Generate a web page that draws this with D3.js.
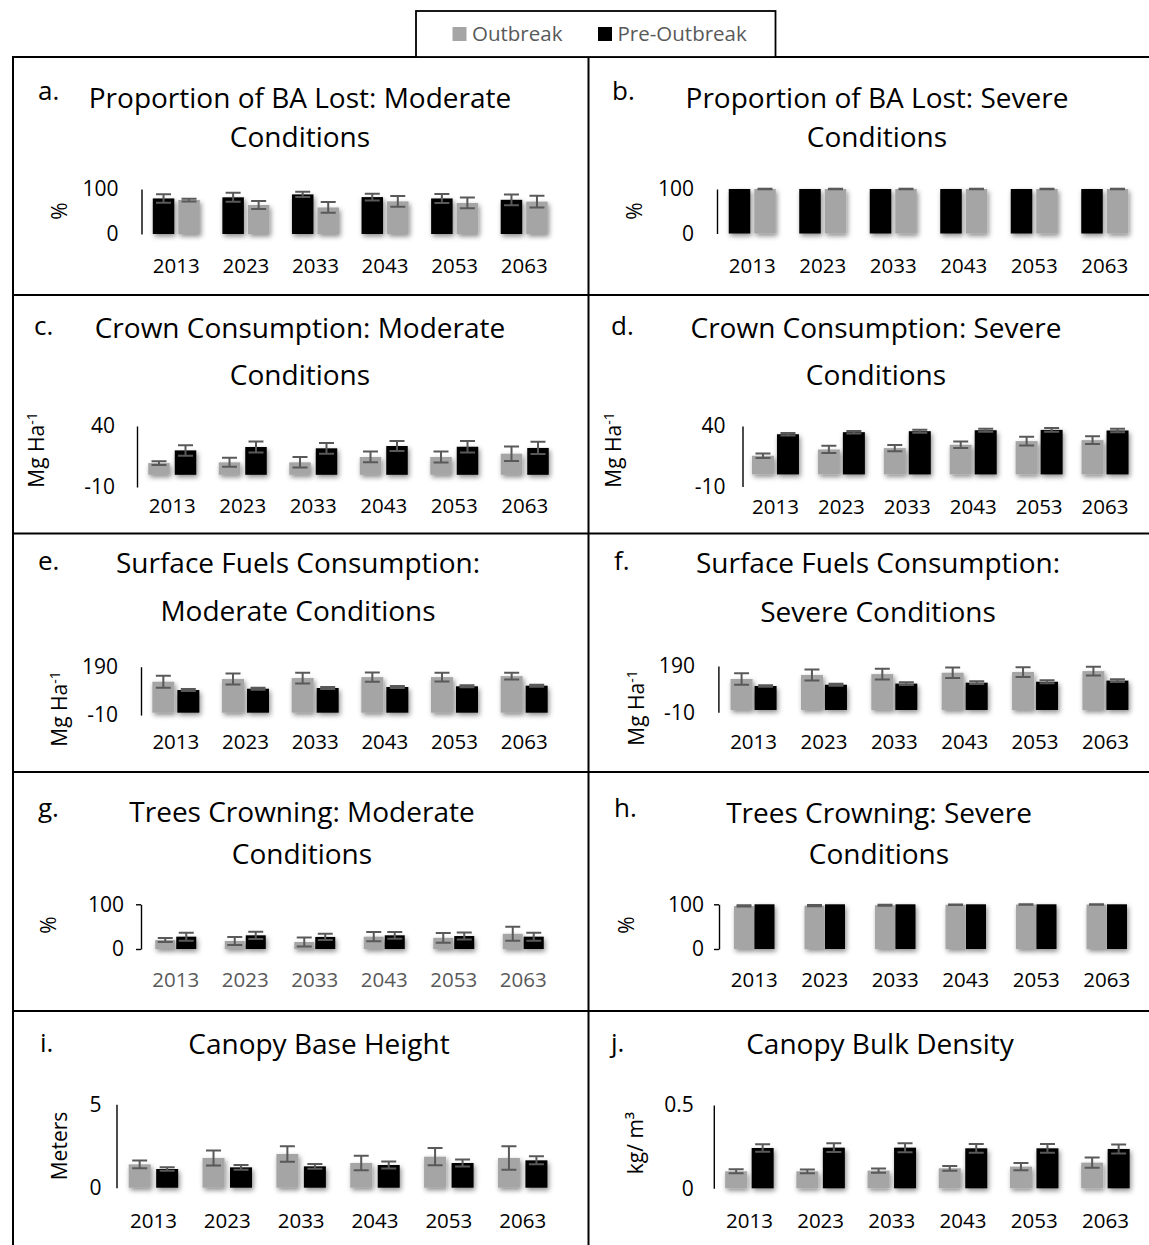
<!DOCTYPE html>
<html>
<head>
<meta charset="utf-8">
<script src="https://cdn.jsdelivr.net/npm/d3@7"></script>
<style>
  body { margin: 0; background: #fff; }
  svg { display: block; font-family: "Open Sans", sans-serif; }
</style>
</head>
<body>
<svg id="chart"></svg>
<script>
const width = 1149, height = 1245;

const years = ["2013", "2023", "2033", "2043", "2053", "2063"];
const seriesNames = ["Outbreak", "Pre-Outbreak"];
const outColor = "#a5a5a5", preColor = "#000000", errColor = "#595959";

// a. proportion of BA lost, moderate (%)
const baModOut = [75.5, 64.5, 59, 72.5, 69, 72];
const baModOutErr = [3, 9, 12, 12, 12, 13];
const baModPre = [79, 81.5, 88, 82, 79, 76];
const baModPreErr = [9.5, 10, 6, 7.5, 10, 12];

// b. proportion of BA lost, severe (%)
const baSevOut = [100, 100, 100, 100, 100, 100];
const baSevOutErr = [0.5, 0.5, 0.5, 0.5, 0.5, 0.5];
const baSevPre = [100, 100, 100, 100, 100, 100];
const baSevPreErr = [0, 0, 0, 0, 0, 0];

// c. crown consumption, moderate (Mg/ha)
const crownModOut = [9.6, 10.2, 10.2, 14.6, 14.6, 17.3];
const crownModOutErr = [1.6, 3.7, 4.3, 4.4, 4.5, 5.9];
const crownModPre = [20, 22.8, 21.7, 23.6, 23, 22];
const crownModPreErr = [4.3, 4.5, 4.4, 4.1, 4.8, 5];

// d. crown consumption, severe (Mg/ha)
const crownSevOut = [15.4, 20.6, 21.7, 24.5, 27.5, 28.3];
const crownSevOutErr = [1.8, 3, 2.5, 2.6, 3.6, 3.2];
const crownSevPre = [33.2, 34.9, 35.7, 36.5, 36.8, 36.3];
const crownSevPreErr = [1, 1, 1.2, 1.2, 1.5, 1.5];

// e. surface fuels consumption, moderate (Mg/ha)
const surfModOut = [128, 139, 143, 147, 147, 151];
const surfModOutErr = [25, 23, 22, 19, 18, 14];
const surfModPre = [93.5, 99, 102, 106, 109, 111.5];
const surfModPreErr = [4, 4, 4.5, 4.5, 4, 4];

// f. surface fuels consumption, severe (Mg/ha)
const surfSevOut = [134, 151, 155, 161, 164, 168];
const surfSevOutErr = [25, 24, 23, 23, 21, 19];
const surfSevPre = [103.5, 109, 114, 118, 122, 127];
const surfSevPreErr = [3, 4, 6, 6, 6, 6];

// g. trees crowning, moderate (%)
const treesModOut = [20, 18, 15.7, 27.6, 25, 34];
const treesModOutErr = [4.5, 9, 10, 10.5, 11, 15.7];
const treesModPre = [27.6, 30.6, 27, 30.6, 29, 27.6];
const treesModPreErr = [9, 8, 7, 7.5, 8, 9];

// h. trees crowning, severe (%)
const treesSevOut = [96.3, 97, 98, 99, 99.5, 99.5];
const treesSevOutErr = [1.5, 1.5, 1, 0.8, 0.5, 0.5];
const treesSevPre = [100, 100, 100, 100, 100, 100];
const treesSevPreErr = [0, 0, 0, 0, 0, 0];

// i. canopy base height (m)
const cbhOut = [1.4, 1.78, 2.02, 1.48, 1.86, 1.78];
const cbhOutErr = [0.23, 0.45, 0.46, 0.44, 0.52, 0.7];
const cbhPre = [1.12, 1.22, 1.28, 1.36, 1.48, 1.64];
const cbhPreErr = [0.1, 0.14, 0.14, 0.21, 0.21, 0.24];

// j. canopy bulk density (kg/m3)
const cbdOut = [0.102, 0.102, 0.106, 0.12, 0.13, 0.154];
const cbdOutErr = [0.012, 0.011, 0.013, 0.014, 0.022, 0.031];
const cbdPre = [0.242, 0.244, 0.244, 0.24, 0.24, 0.236];
const cbdPreErr = [0.023, 0.026, 0.027, 0.026, 0.026, 0.027];

// panel specs: data refs + layout of each small chart
const panels = [
  { letter: "a.", title: ["Proportion of BA Lost: Moderate", "Conditions"], unit: ["%"], domain: [0, 100],
    out: baModOut, outErr: baModOutErr, pre: baModPre, preErr: baModPreErr, order: ["pre", "out"],
    left: 141.5, right: 559, top: 189, bottom: 234, tx: 300, ty: [108, 147], lx: 38, ly: 100,
    ux: 60, uy: 211, xly: 272.5, bw: 21.5, gap: 4, pad: 23 },
  { letter: "b.", title: ["Proportion of BA Lost: Severe", "Conditions"], unit: ["%"], domain: [0, 100],
    out: baSevOut, outErr: baSevOutErr, pre: baSevPre, preErr: baSevPreErr, order: ["pre", "out"],
    left: 717, right: 1140, top: 189, bottom: 233.5, tx: 877, ty: [107.5, 146.7], lx: 612, ly: 100,
    ux: 635, uy: 211, xly: 272.5, bw: 21.5, gap: 4, pad: 23 },
  { letter: "c.", title: ["Crown Consumption: Moderate", "Conditions"], unit: ["Mg Ha", "-1"], domain: [-10, 40],
    out: crownModOut, outErr: crownModOutErr, pre: crownModPre, preErr: crownModPreErr, order: ["out", "pre"],
    left: 137, right: 560, top: 426, bottom: 487, tx: 300, ty: [338.3, 385], lx: 34, ly: 335,
    ux: 37, uy: 450, xly: 513, bw: 21.5, gap: 5, pad: 22 },
  { letter: "d.", title: ["Crown Consumption: Severe", "Conditions"], unit: ["Mg Ha", "-1"], domain: [-10, 40],
    out: crownSevOut, outErr: crownSevOutErr, pre: crownSevPre, preErr: crownSevPreErr, order: ["out", "pre"],
    left: 742.5, right: 1138, top: 426, bottom: 486.5, tx: 876, ty: [338.3, 385], lx: 611, ly: 335,
    ux: 614, uy: 450, xly: 514, bw: 22, gap: 3, pad: 17 },
  { letter: "e.", title: ["Surface Fuels Consumption:", "Moderate Conditions"], unit: ["Mg Ha", "-1"], domain: [-10, 190],
    out: surfModOut, outErr: surfModOutErr, pre: surfModPre, preErr: surfModPreErr, order: ["out", "pre"],
    left: 141, right: 559, top: 666.7, bottom: 715.1, tx: 298, ty: [573.3, 620.7], lx: 38, ly: 570,
    ux: 60, uy: 709, xly: 749, bw: 22, gap: 3, pad: 23 },
  { letter: "f.", title: ["Surface Fuels Consumption:", "Severe Conditions"], unit: ["Mg Ha", "-1"], domain: [-10, 190],
    out: surfSevOut, outErr: surfSevOutErr, pre: surfSevPre, preErr: surfSevPreErr, order: ["out", "pre"],
    left: 718.4, right: 1140.6, top: 666, bottom: 712.3, tx: 878, ty: [573.3, 621.7], lx: 614, ly: 570,
    ux: 637, uy: 708, xly: 749, bw: 22, gap: 2, pad: 23.5 },
  { letter: "g.", title: ["Trees Crowning: Moderate", "Conditions"], unit: ["%"], domain: [0, 100],
    out: treesModOut, outErr: treesModOutErr, pre: treesModPre, preErr: treesModPreErr, order: ["out", "pre"],
    left: 141, right: 558, top: 904.3, bottom: 949, tx: 302, ty: [822, 864], lx: 38, ly: 816.7,
    ux: 49, uy: 925, xly: 986.7, bw: 20, gap: 1, pad: 17, tick: 5, xColor: "#595959" },
  { letter: "h.", title: ["Trees Crowning: Severe", "Conditions"], unit: ["%"], domain: [0, 100],
    out: treesSevOut, outErr: treesSevOutErr, pre: treesSevPre, preErr: treesSevPreErr, order: ["out", "pre"],
    left: 719, right: 1142, top: 904.3, bottom: 949, tx: 879, ty: [823, 864], lx: 614, ly: 816.7,
    ux: 627, uy: 925, xly: 986.7, bw: 20, gap: 0.5, pad: 15, tick: 5 },
  { letter: "i.", title: ["Canopy Base Height"], unit: ["Meters"], domain: [0, 5],
    out: cbhOut, outErr: cbhOutErr, pre: cbhPre, preErr: cbhPreErr, order: ["out", "pre"],
    left: 116.5, right: 559.6, top: 1104.3, bottom: 1187.7, tx: 319, ty: [1054], lx: 40, ly: 1052,
    ux: 60, uy: 1146, xly: 1227.7, bw: 22, gap: 5.5, pad: 15 },
  { letter: "j.", title: ["Canopy Bulk Density"], unit: ["kg/ m³"], domain: [0, 0.5],
    out: cbdOut, outErr: cbdOutErr, pre: cbdPre, preErr: cbdPreErr, order: ["out", "pre"],
    left: 713.8, right: 1141, top: 1105, bottom: 1188.3, tx: 880, ty: [1054], lx: 611, ly: 1052,
    ux: 636, uy: 1143, xly: 1228, bw: 22, gap: 4.5, pad: 20 }
];

const svg = d3.select("#chart")
  .attr("width", width)
  .attr("height", height)
  .attr("viewBox", [0, 0, width, height]);

// soft excel-like shadow under bars
const defs = svg.append("defs");
defs.append("filter")
  .attr("id", "shadow")
  .attr("x", "-50%").attr("y", "-50%").attr("width", "200%").attr("height", "200%")
  .append("feDropShadow")
  .attr("dx", 1.5).attr("dy", 2.5)
  .attr("stdDeviation", 2.5)
  .attr("flood-color", "#000")
  .attr("flood-opacity", 0.45);

// panel frame lines
const frame = svg.append("g").attr("stroke", "#000").attr("stroke-width", 2);
[57, 295, 533.5, 772, 1011].forEach(y => {
  frame.append("line").attr("x1", 12).attr("x2", width).attr("y1", y).attr("y2", y);
});
[13, 588.5].forEach(x => {
  frame.append("line").attr("x1", x).attr("x2", x).attr("y1", 57).attr("y2", height);
});

// legend
const legend = svg.append("g");
legend.append("rect")
  .attr("x", 416).attr("y", 11).attr("width", 359.5).attr("height", 46)
  .attr("fill", "#fff").attr("stroke", "#000").attr("stroke-width", 1.8);
const legendX = [452.5, 598];
seriesNames.forEach((name, i) => {
  legend.append("rect")
    .attr("x", legendX[i]).attr("y", 27).attr("width", 14).attr("height", 14)
    .attr("fill", i === 0 ? outColor : preColor);
  legend.append("text")
    .attr("x", legendX[i] + 19.5).attr("y", 41.3)
    .attr("font-size", 20.5).attr("fill", "#595959")
    .text(name);
});

function drawPanel(p) {
  const g = svg.append("g");

  const y = d3.scaleLinear(p.domain, [p.bottom, p.top]);
  const step = (p.right - p.left) / years.length;
  const groupW = 2 * p.bw + p.gap;
  const inner = 1 - groupW / step;
  const x = d3.scaleBand(years, [p.left, p.right]).paddingInner(inner).paddingOuter(inner / 2);
  const xs = d3.scaleBand(p.order, [0, groupW]).paddingInner(p.gap / (p.bw + p.gap));

  // panel letter + title
  g.append("text")
    .attr("x", p.lx).attr("y", p.ly)
    .attr("font-size", 26).attr("fill", "#000")
    .text(p.letter);
  p.title.forEach((line, i) => {
    g.append("text")
      .attr("x", p.tx).attr("y", p.ty[i])
      .attr("text-anchor", "middle")
      .attr("font-size", 28).attr("fill", "#000")
      .text(line);
  });

  // y axis title (rotated)
  const ut = g.append("text")
    .attr("transform", `translate(${p.ux},${p.uy}) rotate(-90)`)
    .attr("text-anchor", "middle")
    .attr("dy", "0.35em")
    .attr("font-size", 21).attr("fill", "#000")
    .text(p.unit[0]);
  if (p.unit[1]) {
    ut.append("tspan").attr("dy", "-0.55em").attr("font-size", 14).text(p.unit[1]);
  }

  // bars
  const rows = [];
  years.forEach((yr, i) => {
    p.order.forEach(s => {
      rows.push({ year: yr, s: s, v: p[s][i], e: p[s + "Err"][i] });
    });
  });

  g.append("g")
    .attr("filter", "url(#shadow)")
    .selectAll("rect")
    .data(rows)
    .join("rect")
      .attr("x", d => x(d.year) + xs(d.s))
      .attr("y", d => y(Math.max(0, d.v)))
      .attr("width", xs.bandwidth())
      .attr("height", d => Math.abs(y(d.v) - y(0)))
      .attr("fill", d => d.s === "out" ? outColor : preColor);

  // error bars
  const eb = g.append("g").attr("stroke", errColor).attr("stroke-width", 2).attr("fill", "none");
  rows.filter(d => d.e > 0).forEach(d => {
    const cx = x(d.year) + xs(d.s) + xs.bandwidth() / 2;
    eb.append("path")
      .attr("d", `M${cx},${y(d.v + d.e)}V${y(d.v - d.e)}` +
                 `M${cx - 7.5},${y(d.v + d.e)}H${cx + 7.5}` +
                 `M${cx - 7.5},${y(d.v - d.e)}H${cx + 7.5}`);
  });

  // y axis
  const tickSize = p.tick || 0;
  g.append("g")
    .attr("transform", `translate(${p.left},0)`)
    .call(d3.axisLeft(y).tickValues(p.domain).tickSizeInner(tickSize).tickSizeOuter(0)
      .tickPadding(p.pad - tickSize).tickFormat(d => String(d)))
    .call(a => a.attr("font-family", null).attr("font-size", 21))
    .call(a => a.select(".domain").attr("stroke-width", 1.4))
    .call(a => a.selectAll(".tick line").attr("stroke-width", 1.4))
    .call(a => a.selectAll(".tick text").attr("fill", "#000"));

  // horizontal axis at zero
  g.append("line")
    .attr("x1", p.left).attr("x2", p.right)
    .attr("y1", y(0)).attr("y2", y(0))
    .attr("stroke", "#000").attr("stroke-width", 2.2)
    .attr("filter", "url(#shadow)");

  // category labels
  g.append("g")
    .attr("transform", `translate(0,${p.xly})`)
    .call(d3.axisBottom(x).tickSize(0).tickPadding(0))
    .call(a => a.attr("font-family", null).attr("font-size", 20.5))
    .call(a => a.select(".domain").remove())
    .call(a => a.selectAll(".tick text").attr("dy", 0).attr("y", 0).attr("fill", p.xColor || "#000"));
}

panels.forEach(drawPanel);
</script>
</body>
</html>
